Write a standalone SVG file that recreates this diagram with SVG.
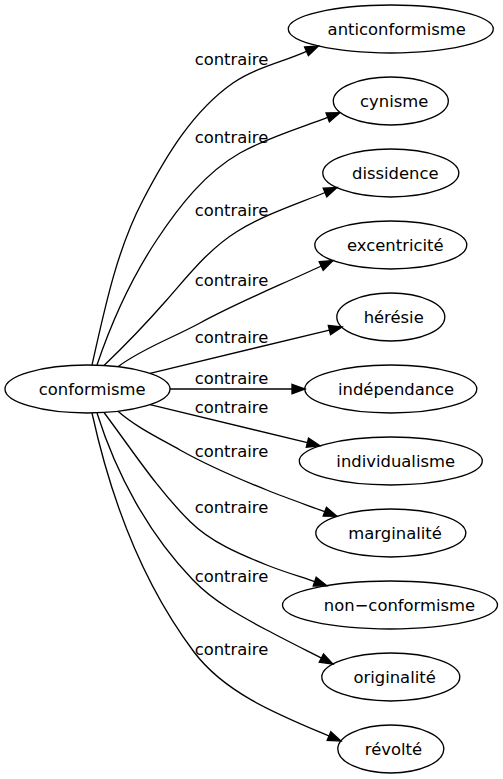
<svg xmlns="http://www.w3.org/2000/svg" width="503" height="779" viewBox="0 0 503 779">
<style>
.n ellipse{fill:none;stroke:#000;stroke-width:1.33}
text{font-family:"DejaVu Sans","Liberation Sans",sans-serif;font-size:16.4px;fill:#000;text-anchor:middle}
.e path{fill:none;stroke:#000;stroke-width:1.33;marker-end:url(#arr)}
</style>
<defs>
<marker id="arr" viewBox="-1 -6 16 12" refX="0" refY="0" markerWidth="16" markerHeight="12" markerUnits="userSpaceOnUse" orient="auto" style="overflow:visible"><path d="M0,-4.7L13,0L0,4.7z" fill="#000" stroke="#000" stroke-width="1.33"/></marker>
</defs>
<rect width="503" height="779" fill="#fff"/>
<g id="edges" class="e">
<path d="M92,365 C104.7,308.8 116.3,251 143,200 C165.8,156.4 192.6,111.1 233,83 C254.8,67.8 282.3,62.2 306.5,51.3"/>
<path d="M97,365 C111.8,321.3 131.2,278.5 156.7,240 C178.9,206.5 205,172.8 240,153 C267.3,137.5 298,128.7 327.7,117.4"/>
<path d="M104,365.5 C125.7,344.7 146.8,322.7 166.7,300 C188.2,275.5 209,248.9 236.7,231.7 C264.1,214.7 295.2,204.7 325,192.5"/>
<path d="M118,366.7 C142.8,348.1 172.8,337.9 200,323 C239.1,301.6 280.8,285 321.2,266"/>
<path d="M150,373.3 L329.4,330.1"/>
<path d="M170,389 L292,389"/>
<path d="M150,404.7 L307.4,442.7"/>
<path d="M118,411.3 C136.3,427.4 158.8,438 180,450 C207.7,465.6 237.2,478.2 266.7,490 C285.9,497.7 305.4,504.5 324.8,511.7"/>
<path d="M104,412.5 C131.8,449.5 157.1,489 190,521.5 C210.9,542.2 239.4,554.1 266.7,565 C282.4,571.3 298.7,576.1 314.7,581.6"/>
<path d="M97,413 C116.3,474.2 148.4,533.8 193,580 C213.6,601.4 240.4,616.1 266.7,630 C284.8,639.6 303.2,648.8 321.4,658.1"/>
<path d="M92,413 C110.5,497.6 142,582.8 194,652 C225.9,694.3 280.2,715.3 329,736"/>
<text x="231.5" y="65">contraire</text>
<text x="231.5" y="142.5">contraire</text>
<text x="231.5" y="216">contraire</text>
<text x="231.5" y="285.5">contraire</text>
<text x="231.5" y="342.5">contraire</text>
<text x="231.5" y="384">contraire</text>
<text x="231.5" y="412.5">contraire</text>
<text x="231.5" y="456.5">contraire</text>
<text x="231.5" y="512.5">contraire</text>
<text x="231.5" y="581.5">contraire</text>
<text x="231.5" y="654.5">contraire</text>
</g>
<g id="conformisme" class="n"><ellipse cx="87.5" cy="389" rx="82.5" ry="24"/><text x="92.2" y="395">conformisme</text></g>
<g id="anticonformisme" class="n"><ellipse cx="390.8" cy="29" rx="102.5" ry="24"/><text x="396.7" y="35">anticonformisme</text></g>
<g id="cynisme" class="n"><ellipse cx="390.8" cy="101" rx="57.5" ry="24"/><text x="394.2" y="107">cynisme</text></g>
<g id="dissidence" class="n"><ellipse cx="390.8" cy="173" rx="68" ry="24"/><text x="395.3" y="179">dissidence</text></g>
<g id="excentricite" class="n"><ellipse cx="390.8" cy="245" rx="76" ry="24"/><text x="395.3" y="251">excentricité</text></g>
<g id="heresie" class="n"><ellipse cx="390.8" cy="317" rx="54" ry="24"/><text x="393.7" y="323">hérésie</text></g>
<g id="independance" class="n"><ellipse cx="390.8" cy="389" rx="86" ry="24"/><text x="396.1" y="395">indépendance</text></g>
<g id="individualisme" class="n"><ellipse cx="390.8" cy="461" rx="91.5" ry="24"/><text x="395.7" y="467">individualisme</text></g>
<g id="marginalite" class="n"><ellipse cx="390.8" cy="533" rx="75" ry="24"/><text x="395.1" y="539">marginalité</text></g>
<g id="non-conformisme" class="n"><ellipse cx="390" cy="605" rx="107.5" ry="24"/><text x="399.5" y="611">non−conformisme</text></g>
<g id="originalite" class="n"><ellipse cx="390.8" cy="677" rx="69" ry="24"/><text x="394.6" y="683">originalité</text></g>
<g id="revolte" class="n"><ellipse cx="390.8" cy="749" rx="53" ry="24"/><text x="393.5" y="755">révolté</text></g>
</svg>
